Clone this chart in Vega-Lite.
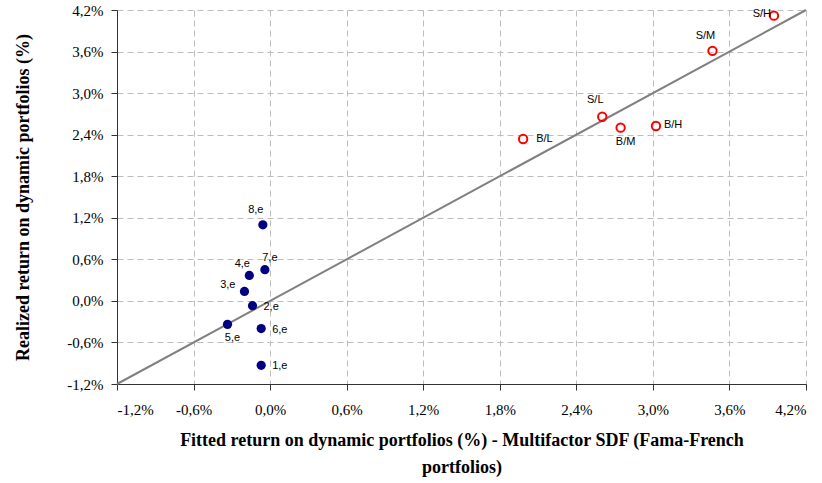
{
  "$schema": "https://vega.github.io/schema/vega-lite/v6.json",
  "autosize": "none",
  "width": 689,
  "height": 374,
  "padding": {"left": 117, "top": 10, "right": 16, "bottom": 99},
  "background": "white",
  "config": {
    "view": {"stroke": null},
    "locale": {
      "number": {"decimal": ",", "thousands": ".", "grouping": [3], "currency": ["", " €"], "minus": "-", "percent": "%"}
    }
  },
  "datasets": {
    "pts": [
      {"label": "1,e", "group": "dynamic", "x": -0.00070, "y": -0.00930},
      {"label": "2,e", "group": "dynamic", "x": -0.00138, "y": -0.00069},
      {"label": "3,e", "group": "dynamic", "x": -0.00201, "y": 0.00137},
      {"label": "4,e", "group": "dynamic", "x": -0.00163, "y": 0.00368},
      {"label": "5,e", "group": "dynamic", "x": -0.00334, "y": -0.00339},
      {"label": "6,e", "group": "dynamic", "x": -0.00070, "y": -0.00400},
      {"label": "7,e", "group": "dynamic", "x": -0.00041, "y": 0.00450},
      {"label": "8,e", "group": "dynamic", "x": -0.00057, "y": 0.01099},
      {"label": "S/H", "group": "ff", "x": 0.03949, "y": 0.04118},
      {"label": "S/M", "group": "ff", "x": 0.03467, "y": 0.03610},
      {"label": "S/L", "group": "ff", "x": 0.02603, "y": 0.02659},
      {"label": "B/M", "group": "ff", "x": 0.02747, "y": 0.02501},
      {"label": "B/H", "group": "ff", "x": 0.03024, "y": 0.02525},
      {"label": "B/L", "group": "ff", "x": 0.01983, "y": 0.02338}
    ],
    "diag": [
      {"x": -0.012, "y": -0.012},
      {"x": 0.042, "y": 0.042}
    ]
  },
  "layer": [
    {
      "data": {"name": "diag"},
      "mark": {"type": "line", "color": "#808080", "strokeWidth": 2},
      "encoding": {
        "x": {
          "field": "x",
          "type": "quantitative",
          "scale": {"domain": [-0.012, 0.042], "nice": false, "zero": false},
          "axis": {
            "values": [-0.012, -0.006, 0, 0.006, 0.012, 0.018, 0.024, 0.03, 0.036, 0.042],
            "format": ".1%",
            "labelFont": "Liberation Serif",
            "labelFontSize": 15,
            "labelColor": "black",
            "titleFont": "Liberation Serif",
            "titleFontSize": 18,
            "titleFontWeight": "bold",
            "titleColor": "black",
            "title": ["Fitted return on dynamic portfolios (%) - Multifactor SDF (Fama-French", "portfolios)"],
            "titleLineHeight": 27,
            "titlePadding": 14,
            "labelPadding": 12,
            "grid": true,
            "gridColor": "#bdbdbd",
            "gridDash": [6, 4],
            "domainColor": "#333333",
            "tickColor": "#333333",
            "tickSize": 6
          }
        },
        "y": {
          "field": "y",
          "type": "quantitative",
          "scale": {"domain": [-0.012, 0.042], "nice": false, "zero": false},
          "axis": {
            "values": [-0.012, -0.006, 0, 0.006, 0.012, 0.018, 0.024, 0.03, 0.036, 0.042],
            "format": ".1%",
            "labelFont": "Liberation Serif",
            "labelFontSize": 15,
            "labelColor": "black",
            "titleFont": "Liberation Serif",
            "titleFontSize": 18,
            "titleFontWeight": "bold",
            "titleColor": "black",
            "title": "Realized return on dynamic portfolios (%)",
            "titlePadding": 34,
            "labelPadding": 8,
            "grid": true,
            "gridColor": "#bdbdbd",
            "gridDash": [6, 4],
            "domainColor": "#333333",
            "tickColor": "#333333",
            "tickSize": 6
          }
        }
      }
    },
    {
      "data": {"name": "pts"},
      "transform": [{"filter": "datum.group == 'dynamic'"}],
      "mark": {"type": "point", "filled": true, "shape": "circle", "size": 85, "color": "#000080", "opacity": 1},
      "encoding": {"x": {"field": "x", "type": "quantitative"}, "y": {"field": "y", "type": "quantitative"}}
    },
    {
      "data": {"name": "pts"},
      "transform": [{"filter": "datum.group == 'ff'"}],
      "mark": {"type": "point", "filled": false, "shape": "circle", "size": 70, "color": "#ff0000", "strokeWidth": 2, "opacity": 1},
      "encoding": {"x": {"field": "x", "type": "quantitative"}, "y": {"field": "y", "type": "quantitative"}}
    },
    {
      "data": {"name": "pts"},
      "transform": [{"filter": {"field": "label", "oneOf": ["2,e", "6,e", "1,e"]}}],
      "mark": {"type": "text", "align": "left", "baseline": "middle", "dx": 11, "dy": 1, "font": "Liberation Sans", "fontSize": 11, "color": "black"},
      "encoding": {"x": {"field": "x", "type": "quantitative"}, "y": {"field": "y", "type": "quantitative"}, "text": {"field": "label"}}
    },
    {
      "data": {"name": "pts"},
      "transform": [{"filter": {"field": "label", "oneOf": ["B/L"]}}],
      "mark": {"type": "text", "align": "left", "baseline": "middle", "dx": 13, "dy": 0, "font": "Liberation Sans", "fontSize": 11, "color": "black"},
      "encoding": {"x": {"field": "x", "type": "quantitative"}, "y": {"field": "y", "type": "quantitative"}, "text": {"field": "label"}}
    },
    {
      "data": {"name": "pts"},
      "transform": [{"filter": {"field": "label", "oneOf": ["B/H"]}}],
      "mark": {"type": "text", "align": "left", "baseline": "middle", "dx": 8, "dy": -1, "font": "Liberation Sans", "fontSize": 11, "color": "black"},
      "encoding": {"x": {"field": "x", "type": "quantitative"}, "y": {"field": "y", "type": "quantitative"}, "text": {"field": "label"}}
    },
    {
      "data": {"name": "pts"},
      "transform": [{"filter": {"field": "label", "oneOf": ["3,e"]}}],
      "mark": {"type": "text", "align": "right", "baseline": "middle", "dx": -9, "dy": -6, "font": "Liberation Sans", "fontSize": 11, "color": "black"},
      "encoding": {"x": {"field": "x", "type": "quantitative"}, "y": {"field": "y", "type": "quantitative"}, "text": {"field": "label"}}
    },
    {
      "data": {"name": "pts"},
      "transform": [{"filter": {"field": "label", "oneOf": ["S/H"]}}],
      "mark": {"type": "text", "align": "right", "baseline": "middle", "dx": -3, "dy": -2, "font": "Liberation Sans", "fontSize": 11, "color": "black"},
      "encoding": {"x": {"field": "x", "type": "quantitative"}, "y": {"field": "y", "type": "quantitative"}, "text": {"field": "label"}}
    },
    {
      "data": {"name": "pts"},
      "transform": [{"filter": {"field": "label", "oneOf": ["8,e", "S/M"]}}],
      "mark": {"type": "text", "align": "center", "baseline": "middle", "dx": -7, "dy": -15, "font": "Liberation Sans", "fontSize": 11, "color": "black"},
      "encoding": {"x": {"field": "x", "type": "quantitative"}, "y": {"field": "y", "type": "quantitative"}, "text": {"field": "label"}}
    },
    {
      "data": {"name": "pts"},
      "transform": [{"filter": {"field": "label", "oneOf": ["S/L"]}}],
      "mark": {"type": "text", "align": "center", "baseline": "middle", "dx": -7, "dy": -17, "font": "Liberation Sans", "fontSize": 11, "color": "black"},
      "encoding": {"x": {"field": "x", "type": "quantitative"}, "y": {"field": "y", "type": "quantitative"}, "text": {"field": "label"}}
    },
    {
      "data": {"name": "pts"},
      "transform": [{"filter": {"field": "label", "oneOf": ["4,e"]}}],
      "mark": {"type": "text", "align": "center", "baseline": "middle", "dx": -7, "dy": -11, "font": "Liberation Sans", "fontSize": 11, "color": "black"},
      "encoding": {"x": {"field": "x", "type": "quantitative"}, "y": {"field": "y", "type": "quantitative"}, "text": {"field": "label"}}
    },
    {
      "data": {"name": "pts"},
      "transform": [{"filter": {"field": "label", "oneOf": ["7,e"]}}],
      "mark": {"type": "text", "align": "center", "baseline": "middle", "dx": 5, "dy": -12, "font": "Liberation Sans", "fontSize": 11, "color": "black"},
      "encoding": {"x": {"field": "x", "type": "quantitative"}, "y": {"field": "y", "type": "quantitative"}, "text": {"field": "label"}}
    },
    {
      "data": {"name": "pts"},
      "transform": [{"filter": {"field": "label", "oneOf": ["5,e", "B/M"]}}],
      "mark": {"type": "text", "align": "center", "baseline": "middle", "dx": 5, "dy": 14, "font": "Liberation Sans", "fontSize": 11, "color": "black"},
      "encoding": {"x": {"field": "x", "type": "quantitative"}, "y": {"field": "y", "type": "quantitative"}, "text": {"field": "label"}}
    }
  ]
}
